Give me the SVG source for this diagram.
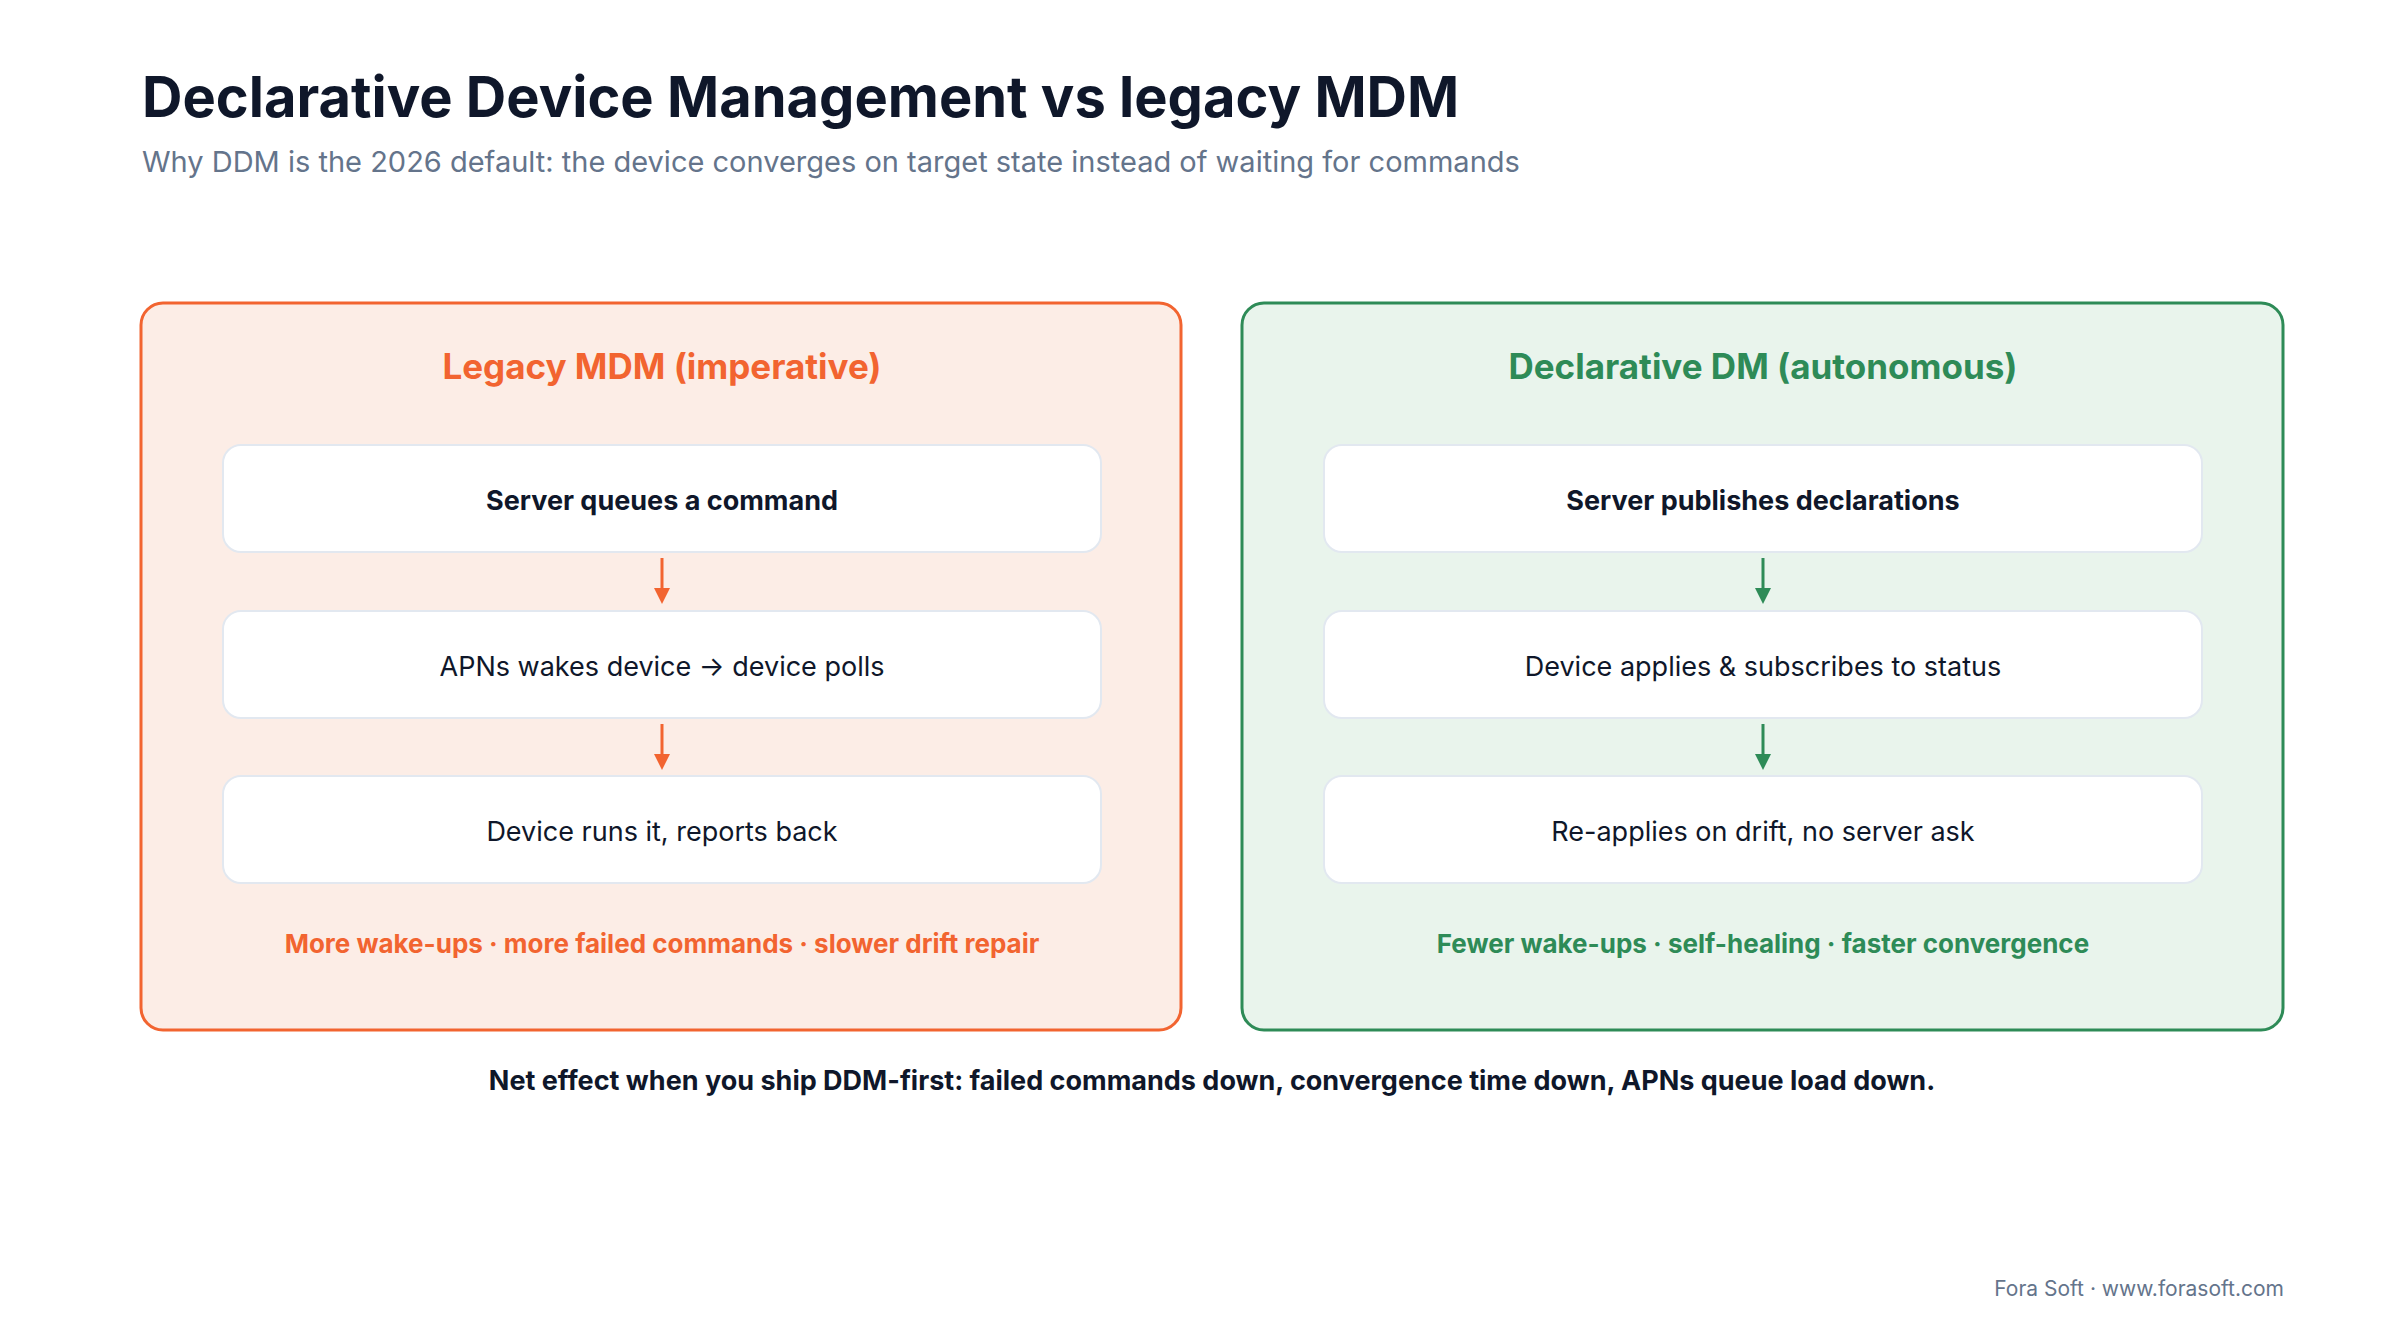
<svg xmlns="http://www.w3.org/2000/svg" width="2400" height="1320" viewBox="0 0 2400 1320">
<defs>
<style>
text{font-family:Inter,"Noto Sans","Liberation Sans",sans-serif}
.box{fill:#fff;stroke:#E2E8F0;stroke-width:2}
.bt{font-size:27px;fill:#0F172A;text-anchor:middle}
.b{font-weight:700}
</style>
<marker id="ao" viewBox="0 0 10 10" refX="5" refY="9" markerWidth="16" markerHeight="16" markerUnits="userSpaceOnUse" orient="auto-start-reverse"><path d="M0,0L10,0L5,10Z" fill="#F26430" transform="rotate(-90 5 5)"/></marker>
</defs>
<rect width="2400" height="1320" fill="#fff"/>
<text x="142" y="117" font-size="56" font-weight="700" fill="#0F172A">Declarative Device Management vs legacy MDM</text>
<text x="142" y="172" font-size="29" fill="#64748B">Why DDM is the 2026 default: the device converges on target state instead of waiting for commands</text>
<g id="legacy">
<rect x="141" y="303" width="1040" height="727" rx="22" fill="#FCEDE6" stroke="#F26430" stroke-width="3"/>
<text x="662" y="379" font-size="35" font-weight="700" fill="#F26430" text-anchor="middle">Legacy MDM (imperative)</text>
</g>
<g id="l1"><rect class="box" x="223" y="445" width="878" height="107" rx="18"/><text class="bt b" x="662" y="510">Server queues a command</text></g>
<g id="l2"><rect class="box" x="223" y="611" width="878" height="107" rx="18"/><text class="bt" x="662" y="676">APNs wakes device → device polls</text></g>
<g id="l3"><rect class="box" x="223" y="776" width="878" height="107" rx="18"/><text class="bt" x="662" y="841">Device runs it, reports back</text></g>
<text x="662" y="953" font-size="26" font-weight="700" fill="#F26430" text-anchor="middle">More wake-ups · more failed commands · slower drift repair</text>
<g id="ddm">
<rect x="1242" y="303" width="1041" height="727" rx="22" fill="#E9F4EC" stroke="#2E8B57" stroke-width="3"/>
<text x="1763" y="379" font-size="35" font-weight="700" fill="#2E8B57" text-anchor="middle">Declarative DM (autonomous)</text>
</g>
<g id="r1"><rect class="box" x="1324" y="445" width="878" height="107" rx="18"/><text class="bt b" x="1763" y="510">Server publishes declarations</text></g>
<g id="r2"><rect class="box" x="1324" y="611" width="878" height="107" rx="18"/><text class="bt" x="1763" y="676">Device applies &amp; subscribes to status</text></g>
<g id="r3"><rect class="box" x="1324" y="776" width="878" height="107" rx="18"/><text class="bt" x="1763" y="841">Re-applies on drift, no server ask</text></g>
<text x="1763" y="953" font-size="26" font-weight="700" fill="#2E8B57" text-anchor="middle">Fewer wake-ups · self-healing · faster convergence</text>
<g id="connectors" stroke-width="3">
<line x1="662" y1="558" x2="662" y2="590" stroke="#F26430"/><path d="M654,588L670,588L662,604Z" fill="#F26430"/>
<line x1="662" y1="724" x2="662" y2="756" stroke="#F26430"/><path d="M654,754L670,754L662,770Z" fill="#F26430"/>
<line x1="1763" y1="558" x2="1763" y2="590" stroke="#2E8B57"/><path d="M1755,588L1771,588L1763,604Z" fill="#2E8B57"/>
<line x1="1763" y1="724" x2="1763" y2="756" stroke="#2E8B57"/><path d="M1755,754L1771,754L1763,770Z" fill="#2E8B57"/>
</g>
<text x="1212" y="1090" font-size="27" font-weight="700" fill="#0F172A" text-anchor="middle">Net effect when you ship DDM-first: failed commands down, convergence time down, APNs queue load down.</text>
<text x="2284" y="1296" font-size="21" fill="#64748B" text-anchor="end">Fora Soft · www.forasoft.com</text>
</svg>
